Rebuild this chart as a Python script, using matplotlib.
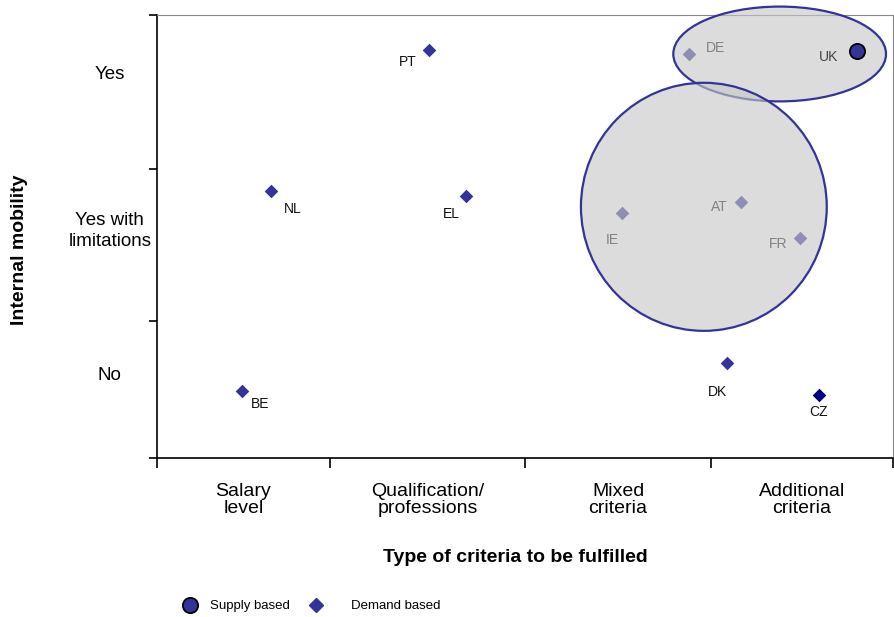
import matplotlib
matplotlib.use("Agg")
import matplotlib.pyplot as plt
from matplotlib.patches import Ellipse
from matplotlib.lines import Line2D

plt.rcParams['font.family'] = ['Liberation Sans', 'DejaVu Sans']

# category boundaries on a 0-100 scale
x_bounds = [0, 23.5, 50.0, 75.3, 100]
y_bounds = [0, 30.9, 65.2, 100]
x_cats = ['Salary\nlevel', 'Qualification/\nprofessions', 'Mixed\ncriteria', 'Additional\ncriteria']
y_cats = ['No', 'Yes with\nlimitations', 'Yes']
y_cat_pos = [18.7, 51.2, 86.5]

# demand based countries
demand_names = ['PT', 'NL', 'EL', 'BE', 'DK', 'DE', 'IE', 'AT', 'FR']
demand_x = [37.0, 15.5, 42.0, 11.5, 77.4, 72.3, 63.2, 79.3, 87.4]
demand_y = [92.1, 60.3, 59.1, 15.1, 21.4, 91.2, 55.3, 57.8, 49.7]
cz_x, cz_y = [89.9], [14.2]
# supply based
supply_names = ['UK']
supply_x = [95.1]
supply_y = [91.9]

# groups (center x, center y, width, height)
groups = [(84.6, 91.2, 28.9, 21.4), (74.3, 56.7, 33.4, 56.0)]

# label offsets in pixels
offs = {'PT': (-22, -12), 'NL': (22, -18), 'EL': (-15, -18), 'BE': (18, -13),
        'DK': (-9, -29), 'CZ': (0, -17), 'DE': (26, 6), 'UK': (-28, -6),
        'IE': (-10, -27), 'AT': (-21, -5), 'FR': (-22, -6)}

navy = '#333399'

fig = plt.figure(figsize=(8.94, 6.17), dpi=100)
ax = fig.add_axes([157/894, 1-458/617, 736/894, 443/617])
ax.set_xlim(0, 100)
ax.set_ylim(0, 100)

ax.scatter(demand_x, demand_y, marker='D', s=48, color=navy, zorder=2, linewidths=0)
ax.scatter(cz_x, cz_y, marker='D', s=48, color='#000080', zorder=2, linewidths=0)

for n, x, y in zip(demand_names + ['CZ'], demand_x + cz_x, demand_y + cz_y):
    dx, dy = offs[n]
    ax.annotate(n, (x, y), xytext=(dx, dy), textcoords='offset pixels',
                ha='center', va='center', fontsize=10, color='#111111', zorder=2)

for i, (cx, cy, w, h) in enumerate(groups):
    e = Ellipse((cx, cy), w, h, facecolor=(0.78, 0.78, 0.78, 0.62),
                edgecolor=navy, lw=1.6, zorder=3 + i, clip_on=False)
    ax.add_patch(e)

ax.scatter(supply_x, supply_y, marker='o', s=120, color=navy, edgecolors='black',
           linewidths=1.3, zorder=6)
for n, x, y in zip(supply_names, supply_x, supply_y):
    dx, dy = offs[n]
    ax.annotate(n, (x, y), xytext=(dx, dy), textcoords='offset pixels',
                ha='center', va='center', fontsize=10, color='#444444', zorder=6)

# axes styling
for s in ['top', 'right']:
    ax.spines[s].set_color('#888888')
for s in ['left', 'bottom']:
    ax.spines[s].set_color('black')
    ax.spines[s].set_linewidth(1.2)

ax.set_xticks(x_bounds)
ax.set_xticklabels([])
ax.set_yticks(y_bounds)
ax.set_yticklabels([])
ax.tick_params(axis='x', which='major', length=7, width=1.2, direction='out')
ax.tick_params(axis='y', which='major', length=6, width=1.2, direction='out')

mids = [(a + b) / 2 for a, b in zip(x_bounds[:-1], x_bounds[1:])]
ax.set_xticks(mids, minor=True)
ax.set_xticklabels(x_cats, minor=True, fontsize=14, linespacing=1.0)
ax.tick_params(axis='x', which='minor', length=0, pad=18)

ytr = ax.get_yaxis_transform()
for lab, yp in zip(y_cats, y_cat_pos):
    ax.text(-0.064, yp, lab, transform=ytr, ha='center', va='center',
            fontsize=13.5, multialignment='center', linespacing=1.3)

ax.set_xlabel('Type of criteria to be fulfilled', fontsize=14, fontweight='bold')
ax.xaxis.set_label_coords(0.487, -0.205)
ax.set_ylabel('Internal mobility', fontsize=14, fontweight='bold')
ax.yaxis.set_label_coords(-0.175, 0.47)

h1 = Line2D([], [], marker='o', ls='', markersize=11, markerfacecolor=navy,
            markeredgecolor='black', markeredgewidth=1.3)
h2 = Line2D([], [], marker='D', ls='', markersize=7.5, markerfacecolor=navy,
            markeredgecolor=navy)
leg1 = fig.legend([h1], ['Supply based'], loc='center left',
                  bbox_to_anchor=(168/894, 1-606/617), frameon=False,
                  fontsize=9.5, handletextpad=0.75, handlelength=1.5)
leg2 = fig.legend([h2], ['Demand based'], loc='center left',
                  bbox_to_anchor=(294/894, 1-606/617), frameon=False,
                  fontsize=9.5, handletextpad=1.9, handlelength=1.5)

fig.savefig('out.png', dpi=100)
